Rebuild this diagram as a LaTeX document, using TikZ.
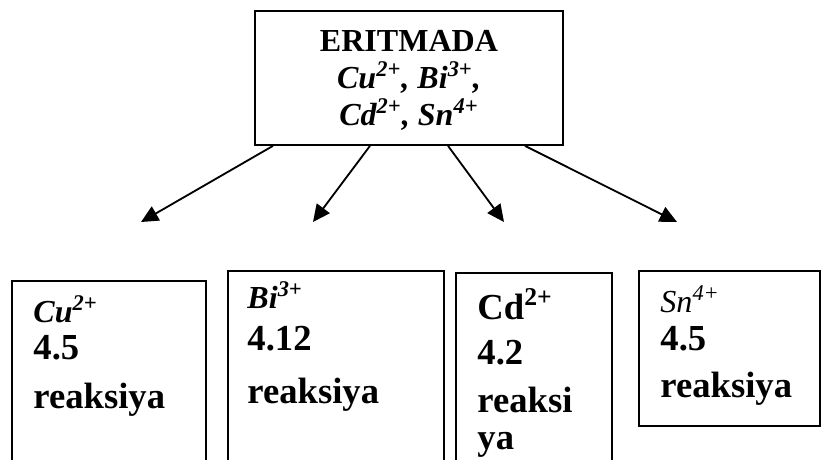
\documentclass[tikz,border=0pt]{standalone}
\usepackage{fontspec}
\setmainfont{Liberation Serif}
\usetikzlibrary{arrows.meta, calc, fit}

\begin{document}
\begin{tikzpicture}[
                x=0.4367pt, y=-0.4367pt,
                box/.style={draw, line width=0.75pt, inner sep=0pt},
                toptxt/.style={align=center, inner sep=0pt, font=\fontsize{14}{16}\selectfont\bfseries},
                ion/.style={align=left, inner sep=0pt, anchor=base west, font=\fontsize{16}{19}\selectfont\bfseries},
                arr/.style={line width=0.8pt, -{Triangle[length=7.5pt, width=7pt]}}
            ]
                \useasboundingbox (0,0) rectangle (822,459);
                \clip (0,0) rectangle (822,459);

                \node[box, fit={(255,11) (563,145)}] (erit) {};
                \node[toptxt, anchor=base] (eritxt) at (409,125) {ERITMADA\\ \textit{Cu\textsuperscript{2+}, Bi\textsuperscript{3+},}\\ \textit{Cd\textsuperscript{2+}, Sn\textsuperscript{4+}}};

                \node[box, fit={(12,281) (206,475)}] (cu) {};
                \node[box, fit={(228,271) (444,475)}] (bi) {};
                \node[box, fit={(456,273) (612,475)}] (cd) {};
                \node[box, fit={(639,271) (820,426)}] (sn) {};

                \node[ion] (cutxt) at (33,408) {{\fontsize{14}{16}\selectfont\itshape Cu\textsuperscript{2+}}\\[-2.8pt] 4.5\\[2pt] reaksiya};
                \node[ion] (bitxt) at (247,403) {{\fontsize{14}{16}\selectfont\itshape Bi\textsuperscript{3+}}\\[-0.7pt] 4.12\\[4pt] reaksiya};
                \node[ion] (cdtxt) at (477,449) {Cd\textsuperscript{2+}\\[0.6pt] 4.2\\[2pt] reaksi\\[-3pt] ya};
                \node[ion] (sntxt) at (660,397) {{\fontsize{14}{16}\selectfont\mdseries\itshape Sn\textsuperscript{4+}}\\[-2.4pt] 4.5\\[1.5pt] reaksiya};

                \coordinate (t1) at (141,222);
                \coordinate (t2) at (313,222);
                \coordinate (t3) at (504,222);
                \coordinate (t4) at (677,222);

                \draw[arr] ($(erit.south)+(-136,0)$) -- (t1);
                \draw[arr] ($(erit.south)+(-39,0)$) -- (t2);
                \draw[arr] ($(erit.south)+(39,0)$) -- (t3);
                \draw[arr] ($(erit.south)+(116,0)$) -- (t4);
            \end{tikzpicture}
\end{document}
